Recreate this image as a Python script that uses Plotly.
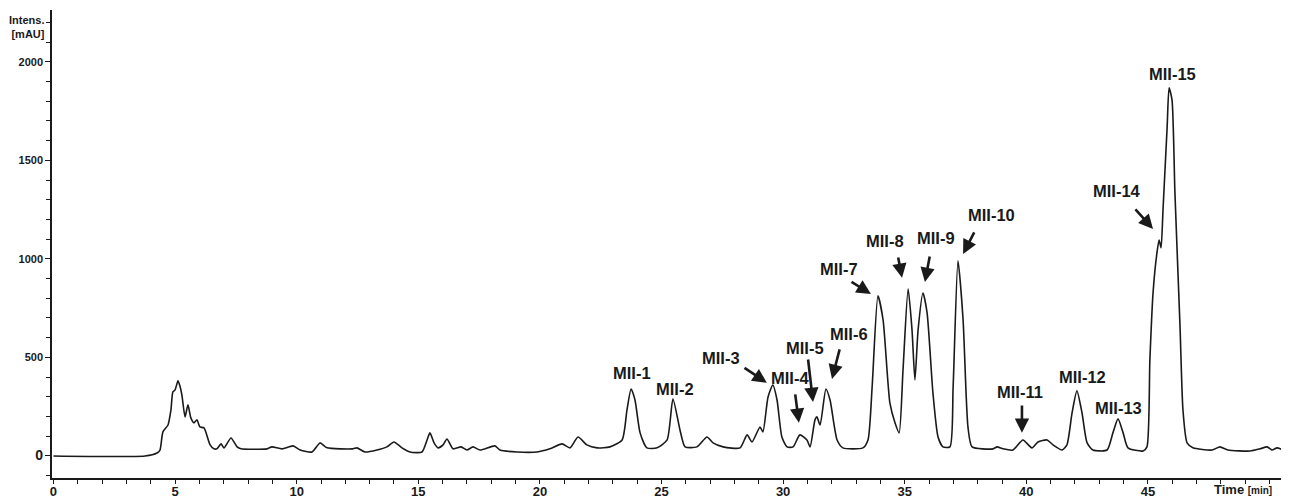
import plotly.graph_objects as go

# Chromatogram trace (time in min, intensity in mAU)
time_min = [0.00, 3.76, 4.26, 4.38, 4.50, 4.71, 4.83, 4.91, 5.00, 5.12, 5.20, 5.28, 5.41, 5.53, 5.65,
            5.78, 5.90, 6.02, 6.19, 6.44, 6.60, 6.72, 6.89, 7.01, 7.30, 7.55, 7.71, 8.78, 8.98, 9.40,
            9.85, 10.14, 10.63, 10.96, 11.25, 12.31, 12.48, 12.81, 13.30, 13.71, 14.00, 14.33, 14.66, 15.15, 15.36,
            15.48, 15.65, 15.81, 16.02, 16.18, 16.43, 16.76, 17.00, 17.25, 17.54, 18.15, 18.36, 19.06, 19.88, 20.41,
            20.91, 21.24, 21.57, 21.93, 22.35, 22.88, 23.38, 23.58, 23.75, 23.91, 24.12, 24.40, 24.82, 25.23, 25.47,
            25.76, 25.97, 26.46, 26.87, 27.12, 27.53, 28.23, 28.52, 28.72, 29.05, 29.17, 29.38, 29.58, 29.75, 29.95,
            30.16, 30.41, 30.69, 30.98, 31.11, 31.31, 31.39, 31.52, 31.76, 31.93, 32.22, 32.46, 33.28, 33.49, 33.66,
            33.90, 34.11, 34.39, 34.60, 34.77, 34.93, 35.14, 35.30, 35.42, 35.55, 35.75, 35.92, 36.16, 36.37, 36.57,
            36.86, 36.99, 37.19, 37.40, 37.60, 37.77, 38.63, 38.80, 39.04, 39.45, 39.86, 40.23, 40.48, 40.85, 41.10,
            41.47, 41.67, 41.88, 42.08, 42.29, 42.50, 42.74, 43.32, 43.56, 43.77, 43.98, 44.18, 44.80, 44.96, 45.08,
            45.21, 45.37, 45.46, 45.54, 45.62, 45.79, 45.87, 45.99, 46.11, 46.32, 46.44, 46.61, 46.85, 47.64, 47.96,
            48.29, 49.20, 49.61, 49.90, 50.10, 50.31, 50.64]
intensity = [0, 0, 15, 30, 122, 157, 233, 325, 335, 381, 355, 310, 198, 259, 193,
             168, 183, 147, 142, 56, 36, 36, 61, 41, 91, 46, 36, 36, 46, 36,
             51, 30, 20, 66, 41, 36, 41, 20, 30, 46, 71, 41, 20, 20, 81,
             117, 66, 41, 56, 86, 36, 46, 30, 46, 30, 51, 30, 20, 20, 36,
             61, 41, 96, 56, 41, 46, 81, 233, 340, 284, 117, 41, 41, 81, 289,
             132, 46, 46, 96, 66, 46, 41, 107, 71, 147, 122, 299, 360, 284, 96,
             46, 46, 107, 81, 46, 183, 198, 157, 340, 284, 81, 41, 41, 81, 350,
             812, 690, 269, 168, 117, 437, 848, 640, 386, 640, 827, 726, 320, 96, 46,
             46, 350, 990, 690, 147, 46, 36, 46, 36, 30, 81, 41, 71, 81, 56,
             30, 56, 218, 330, 218, 66, 30, 30, 117, 188, 117, 41, 25, 46, 487,
             827, 1030, 1096, 1056, 1249, 1670, 1868, 1807, 1335, 655, 233, 66, 41, 30, 46,
             30, 25, 36, 46, 30, 41, 25]

# Peak labels: text, label position (time, intensity)
peak_labels = ["MII-1", "MII-2", "MII-3", "MII-4", "MII-5", "MII-6", "MII-7", "MII-8",
               "MII-9", "MII-10", "MII-11", "MII-12", "MII-13", "MII-14", "MII-15"]
label_t = [23.79, 25.55, 27.45, 30.28, 30.90, 32.71, 32.30, 34.19, 36.29, 38.55, 39.74, 42.29, 43.77, 43.73, 45.99]
label_i = [421, 340, 497, 396, 548, 619, 949, 1091, 1107, 1223, 325, 401, 244, 1345, 1939]

# Arrows: (tail time, tail intensity) -> (head time, head intensity)
arrow_tail_t = [28.35, 30.49, 31.02, 32.34, 32.75, 34.72, 36.04, 37.89, 39.82, 44.43]
arrow_tail_i = [452, 320, 497, 548, 888, 1015, 1020, 1142, 264, 1259]
arrow_head_t = [29.33, 30.65, 31.23, 32.01, 33.61, 34.89, 35.83, 37.40, 39.82, 45.21]
arrow_head_i = [371, 168, 274, 391, 822, 904, 883, 1025, 117, 1152]

x_tickvals = [0, 5, 10, 15, 20, 25, 30, 35, 40, 45, 50]
x_ticktext = ["0", "5", "10", "15", "20", "25", "30", "35", "40", "45", ""]
y_tickvals = [0, 500, 1000, 1500, 2000]
y_ticktext = ["<span style='font-size:14px'>0</span>", "500", "1000", "1500", "2000"]

FONT = "Liberation Sans, Arial, sans-serif"
INK = "#1a1a1a"

fig = go.Figure()
fig.add_trace(go.Scatter(
    x=time_min, y=intensity, mode="lines",
    line=dict(color=INK, width=1.6, shape="spline", smoothing=0.6),
    hoverinfo="skip", showlegend=False,
))

annotations = []
for txt, t, v in zip(peak_labels, label_t, label_i):
    annotations.append(dict(
        x=t, y=v, xref="x", yref="y", text="<b>" + txt + "</b>", showarrow=False,
        font=dict(family=FONT, size=16.5, color=INK), xanchor="center", yanchor="middle",
    ))
for tt, ti, ht, hi in zip(arrow_tail_t, arrow_tail_i, arrow_head_t, arrow_head_i):
    annotations.append(dict(
        x=ht, y=hi, ax=tt, ay=ti, xref="x", yref="y", axref="x", ayref="y",
        text="", showarrow=True, arrowhead=2, arrowsize=1.1, arrowwidth=2.6,
        arrowcolor=INK, standoff=0, startstandoff=0,
    ))

annotations.append(dict(
    x=-0.004, y=0.964, xref="paper", yref="paper", text="<b>Intens.<br>[mAU]</b>",
    showarrow=False, xanchor="right", yanchor="middle", align="right",
    font=dict(family=FONT, size=11, color=INK),
))
annotations.append(dict(
    x=0.988, y=-0.024, xref="paper", yref="paper",
    text="<b>Time <span style='font-size:10px'>[min]</span></b>",
    showarrow=False, xanchor="right", yanchor="middle",
    font=dict(family=FONT, size=13, color=INK),
))

# The page body adds an 8px offset, so the figure is sized to fit the window after it.
fig.update_layout(
    width=1281, height=490,
    margin=dict(l=44, r=0, t=2, b=20, autoexpand=False),
    paper_bgcolor="white", plot_bgcolor="white",
    annotations=annotations,
    xaxis=dict(
        range=[-0.06, 50.80], showgrid=False, zeroline=False, automargin=False,
        showline=True, linecolor=INK, linewidth=1.5,
        ticks="outside", ticklen=4, tickwidth=1.2, tickcolor=INK,
        tickvals=x_tickvals, ticktext=x_ticktext, ticklabelstandoff=-3,
        tickfont=dict(family=FONT, size=13, color=INK, weight="bold"),
        minor=dict(dtick=1, ticks="outside", ticklen=4, tickwidth=1, tickcolor=INK),
    ),
    yaxis=dict(
        range=[-112, 2263], showgrid=False, zeroline=False, automargin=False,
        showline=True, linecolor=INK, linewidth=1.5,
        ticks="outside", ticklen=5, tickwidth=1.2, tickcolor=INK,
        tickvals=y_tickvals, ticktext=y_ticktext,
        tickfont=dict(family=FONT, size=11, color=INK, weight="bold"),
        minor=dict(dtick=100, ticks="outside", ticklen=4, tickwidth=1, tickcolor=INK),
    ),
)

fig.write_html("out.html")
